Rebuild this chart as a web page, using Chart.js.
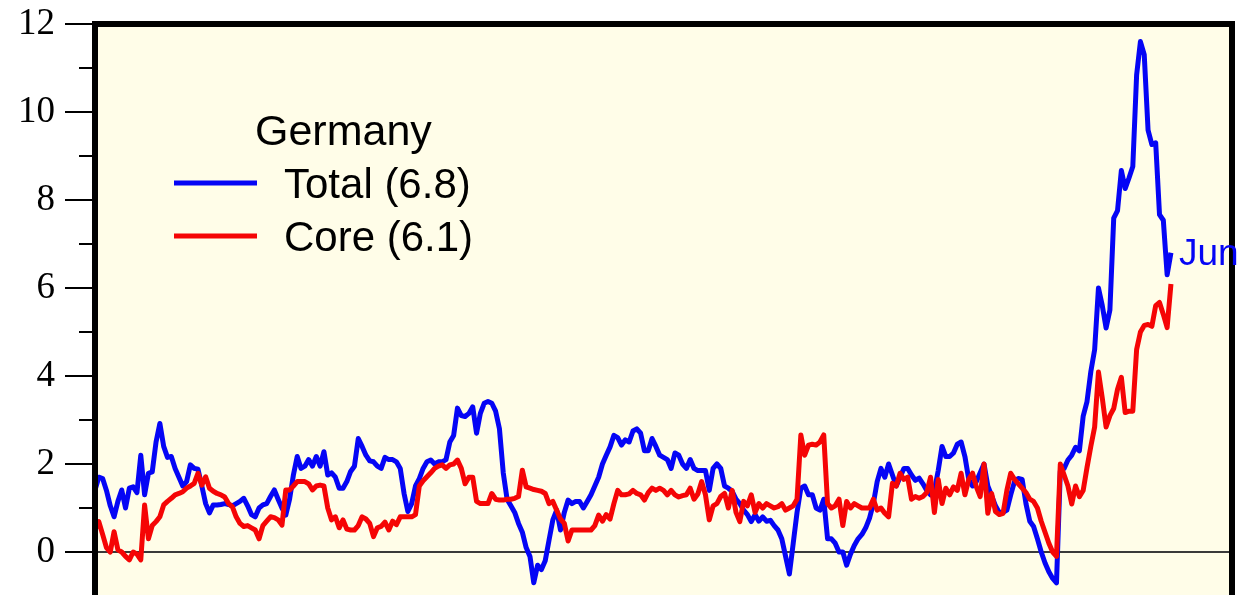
<!DOCTYPE html>
<html>
<head>
<meta charset="utf-8">
<script src="https://cdn.jsdelivr.net/npm/chart.js@4"></script>
<style>
  html, body { margin: 0; padding: 0; background: #fff; overflow: hidden; }
</style>
</head>
<body>
<canvas id="chart" width="1242" height="600"></canvas>
<script>
// German HICP, % y/y, monthly
const total = [
  1.41, 1.7, 1.67, 1.4, 1.05, 0.8, 1.15, 1.41, 1.0, 1.45,
  1.48, 1.35, 2.2, 1.3, 1.79, 1.82, 2.5, 2.92, 2.4, 2.15,
  2.17, 1.9, 1.7, 1.5, 1.6, 1.98, 1.9, 1.88, 1.5, 1.1,
  0.89, 1.07, 1.07, 1.08, 1.1, 1.08, 1.05, 1.1, 1.15, 1.22,
  1.05, 0.85, 0.8, 1.0, 1.07, 1.1, 1.26, 1.41, 1.2, 1.0,
  0.84, 1.2, 1.75, 2.17, 1.9, 1.95, 2.1, 1.95, 2.17, 1.95,
  2.28, 1.75, 1.8, 1.7, 1.45, 1.45, 1.6, 1.83, 1.95, 2.58,
  2.4, 2.2, 2.07, 2.05, 1.95, 1.9, 2.15, 2.1, 2.1, 2.05,
  1.9, 1.33, 0.92, 1.1, 1.5, 1.67, 1.9, 2.05, 2.09, 2.0,
  2.05, 2.05, 2.1, 2.5, 2.65, 3.27, 3.1, 3.08, 3.15, 3.3,
  2.7, 3.15, 3.38, 3.42, 3.38, 3.2, 2.8, 1.8, 1.2, 1.05,
  0.9, 0.65, 0.45, 0.1, -0.1, -0.7, -0.3, -0.4, -0.2, 0.27,
  0.73, 0.95, 0.5, 0.9, 1.18, 1.1, 1.15, 1.15, 1.0, 1.15,
  1.3, 1.5, 1.7, 2.0, 2.2, 2.39, 2.65, 2.6, 2.43, 2.55,
  2.5, 2.75, 2.8, 2.7, 2.3, 2.3, 2.58, 2.4, 2.2, 2.15,
  2.1, 1.9, 2.25, 2.2, 2.0, 1.9, 2.1, 1.9, 1.85, 1.85,
  1.85, 1.4, 1.9, 2.0, 1.9, 1.5, 1.45, 1.38, 1.2, 1.1,
  0.95, 0.85, 0.69, 0.85, 0.7, 0.8, 0.7, 0.72, 0.6, 0.5,
  0.3, -0.1, -0.5, 0.2, 0.9, 1.45, 1.5, 1.3, 1.3, 1.0,
  0.95, 1.2, 0.3, 0.3, 0.2, 0.0, 0.0, -0.3, -0.05, 0.15,
  0.3, 0.4, 0.55, 0.77, 1.1, 1.6, 1.9, 1.7, 2.0, 1.75,
  1.5, 1.7, 1.9, 1.9, 1.75, 1.63, 1.68, 1.55, 1.4, 1.3,
  1.4, 1.85, 2.4, 2.17, 2.17, 2.25, 2.45, 2.5, 2.17, 1.65,
  1.5, 1.6, 1.8, 2.0, 1.5, 1.28, 1.05, 0.9, 0.9, 0.95,
  1.3, 1.6, 1.67, 1.65, 1.1, 0.7, 0.58, 0.3, 0.0, -0.25,
  -0.45, -0.6, -0.7, 1.84, 1.9, 2.09, 2.2, 2.38, 2.3, 3.09,
  3.42, 4.1, 4.6, 6.0, 5.6, 5.09, 5.5, 7.59, 7.76, 8.67,
  8.26, 8.5, 8.76, 10.84, 11.6, 11.3, 9.59, 9.26, 9.3, 7.67,
  7.54, 6.3, 6.8
];

const core = [
  0.5, 0.69, 0.4, 0.1, 0.0, 0.46, 0.05, 0.0, -0.1, -0.18,
  0.0, -0.05, -0.18, 1.07, 0.3, 0.6, 0.69, 0.8, 1.07, 1.15,
  1.22, 1.3, 1.33, 1.37, 1.45, 1.5, 1.56, 1.79, 1.52, 1.71,
  1.45, 1.38, 1.33, 1.3, 1.25, 1.1, 1.03, 0.8, 0.65, 0.58,
  0.6, 0.55, 0.5, 0.3, 0.6, 0.7, 0.8, 0.78, 0.73, 0.61,
  1.41, 1.41, 1.5, 1.6, 1.6, 1.6, 1.55, 1.41, 1.5, 1.52,
  1.5, 1.0, 0.73, 0.8, 0.55, 0.73, 0.52, 0.5, 0.5, 0.6,
  0.8, 0.75, 0.65, 0.35, 0.55, 0.58, 0.68, 0.5, 0.7, 0.62,
  0.8, 0.8, 0.8, 0.8, 0.85, 1.5, 1.62, 1.71, 1.8, 1.9,
  1.95, 1.98, 1.9, 1.98, 2.0, 2.09, 1.9, 1.55, 1.7, 1.7,
  1.15, 1.1, 1.1, 1.1, 1.33, 1.2, 1.18, 1.18, 1.2, 1.2,
  1.22, 1.26, 1.86, 1.48, 1.45, 1.42, 1.4, 1.38, 1.33, 1.1,
  1.15, 0.95, 0.75, 0.65, 0.25, 0.5, 0.5, 0.5, 0.5, 0.5,
  0.5, 0.6, 0.84, 0.7, 0.85, 0.75, 1.1, 1.4, 1.3, 1.3,
  1.32, 1.4, 1.33, 1.3, 1.18, 1.35, 1.45, 1.4, 1.45, 1.4,
  1.3, 1.4, 1.3, 1.25, 1.28, 1.3, 1.45, 1.2, 1.32, 1.6,
  1.3, 0.73, 1.05, 1.1, 1.26, 1.33, 1.0, 1.4, 0.9, 0.69,
  1.15, 1.05, 1.3, 0.9, 1.1, 1.0, 1.1, 1.05, 1.0, 1.03,
  1.1, 0.95, 1.0, 1.05, 1.2, 2.66, 2.2, 2.43, 2.45, 2.43,
  2.5, 2.66, 1.1, 1.0, 1.05, 1.2, 0.6, 1.15, 1.0, 1.1,
  1.05, 1.0, 1.0, 1.0, 1.2, 0.95, 1.0, 0.88, 0.8, 1.56,
  1.5, 1.79, 1.65, 1.7, 1.2, 1.26, 1.22, 1.26, 1.35, 1.7,
  0.9, 1.65, 1.1, 1.45, 1.3, 1.48, 1.4, 1.79, 1.3, 1.65,
  1.79, 1.48, 1.26, 2.0, 0.88, 1.33, 0.92, 0.85, 0.88, 1.4,
  1.79, 1.65, 1.55, 1.45, 1.35, 1.2, 1.15, 1.0, 0.7, 0.45,
  0.2, 0.0, -0.1, 2.0, 1.75, 1.5, 1.09, 1.5, 1.26, 1.4,
  1.92, 2.4, 2.84, 4.09, 3.5, 2.84, 3.1, 3.26, 3.7, 3.97,
  3.17, 3.2, 3.2, 4.6, 5.0, 5.15, 5.17, 5.13, 5.6, 5.67,
  5.4, 5.1, 6.09
];

const seriesNames = ['Total (6.8)', 'Core (6.1)'];
const legendTitle = 'Germany';
const lastLabel = 'Jun';

// monthly categories, Dec 1999 onwards; the axis runs a bit past the data
const monthNames = ['Jan','Feb','Mar','Apr','May','Jun','Jul','Aug','Sep','Oct','Nov','Dec'];
const startYear = 1999, startMonth = 11, nMonths = 299;
const labels = [];
for (let k = 0; k < nMonths; k++) {
  const m = startMonth + k;
  labels.push(monthNames[m % 12] + ' ' + (startYear + Math.floor(m / 12)));
}

const BLUE = '#0505f5';
const RED = '#f50505';

const decor = {
  id: 'decor',
  beforeDraw(chart) {
    const { ctx, chartArea: a } = chart;
    ctx.save();
    ctx.fillStyle = '#fffde8';
    ctx.fillRect(a.left, a.top, a.right - a.left, a.bottom - a.top);
    ctx.restore();
  },
  beforeDatasetsDraw(chart) {
    const { ctx, chartArea: a, scales: { y } } = chart;
    const y0 = y.getPixelForValue(0);
    ctx.save();
    ctx.strokeStyle = '#3a3a3a';
    ctx.lineWidth = 2;
    ctx.beginPath();
    ctx.moveTo(a.left, y0);
    ctx.lineTo(a.right, y0);
    ctx.stroke();
    ctx.restore();
  },
  afterDatasetsDraw(chart) {
    const { ctx, chartArea: a, scales: { x, y } } = chart;
    ctx.save();
    // frame
    ctx.strokeStyle = '#000';
    ctx.lineWidth = 6;
    ctx.beginPath();
    ctx.moveTo(a.left, a.bottom + 10);
    ctx.lineTo(a.left, a.top);
    ctx.lineTo(a.right, a.top);
    ctx.lineTo(a.right, a.bottom + 10);
    ctx.stroke();

    // tick marks
    ctx.lineWidth = 2;
    for (let v = -1; v <= 12; v++) {
      const py = y.getPixelForValue(v);
      const len = v % 2 === 0 ? 27 : 13;
      ctx.beginPath();
      ctx.moveTo(a.left - 3 - len, py);
      ctx.lineTo(a.left - 3, py);
      ctx.stroke();
    }

    // legend
    ctx.fillStyle = '#000';
    ctx.textBaseline = 'alphabetic';
    ctx.font = '43px "Liberation Sans", Arial, sans-serif';
    ctx.fillText(legendTitle, 255, 145);
    const items = [[seriesNames[0], BLUE, 183, 198], [seriesNames[1], RED, 236, 251]];
    items.forEach(([txt, col, ly, by]) => {
      ctx.strokeStyle = col;
      ctx.lineWidth = 5;
      ctx.beginPath();
      ctx.moveTo(174, ly);
      ctx.lineTo(257, ly);
      ctx.stroke();
      ctx.fillStyle = '#000';
      ctx.font = '42px "Liberation Sans", Arial, sans-serif';
      ctx.fillText(txt, 284, by);
    });

    // end label
    const li = total.length - 1;
    ctx.fillStyle = BLUE;
    ctx.font = '37px "Liberation Sans", Arial, sans-serif';
    ctx.textBaseline = 'middle';
    ctx.fillText(lastLabel, x.getPixelForValue(li) + 8, y.getPixelForValue(total[li]) + 2);
    ctx.restore();
  }
};

new Chart(document.getElementById('chart'), {
  type: 'line',
  data: {
    labels: labels,
    datasets: [
      {
        label: seriesNames[0],
        data: total,
        borderColor: BLUE,
        borderWidth: 5,
        pointRadius: 0,
        tension: 0,
        borderJoinStyle: 'round',
        order: 1
      },
      {
        label: seriesNames[1],
        data: core,
        borderColor: RED,
        borderWidth: 5,
        pointRadius: 0,
        tension: 0,
        borderJoinStyle: 'round',
        order: 0
      }
    ]
  },
  options: {
    responsive: false,
    animation: false,
    layout: { padding: { top: 24, bottom: 4, right: 10, left: 0 } },
    plugins: {
      legend: { display: false },
      tooltip: { enabled: false }
    },
    scales: {
      x: { display: false, offset: false },
      y: {
        min: -1,
        max: 12,
        afterFit: (s) => {
          s.width = 95;
          s.paddingTop = 0;
          s.paddingBottom = 0;
        },
        grid: { display: false },
        border: { display: false },
        ticks: {
          stepSize: 1,
          autoSkip: false,
          padding: 32,
          color: '#000',
          font: { family: '"Liberation Serif", "Times New Roman", serif', size: 37 },
          callback: (v) => (v % 2 === 0 && v >= 0 ? v : '')
        }
      }
    }
  },
  plugins: [decor]
});
</script>
</body>
</html>
